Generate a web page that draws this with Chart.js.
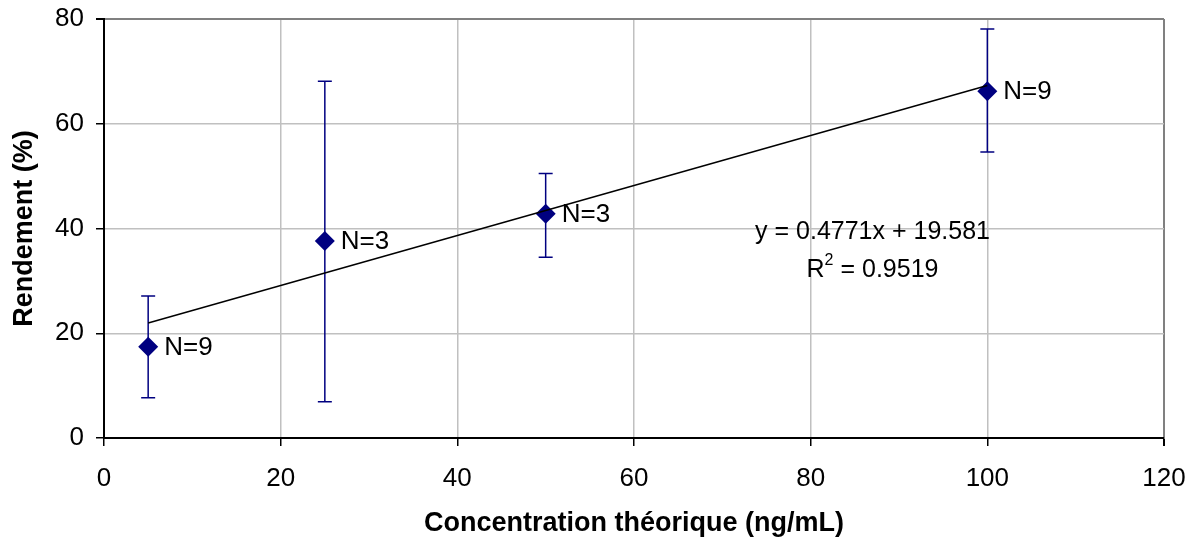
<!DOCTYPE html>
<html>
<head>
<meta charset="utf-8">
<script src="https://cdn.jsdelivr.net/npm/chart.js@4"></script>
<style>
  html, body { margin: 0; padding: 0; background: #fff; }
  #wrap { width: 1196px; height: 544px; }
</style>
</head>
<body>
<div id="wrap"><canvas id="rendementChart" width="1196" height="544"></canvas></div>
<script>
// values
const concentrations = [5, 25, 50, 100];
const rendements = [17.4, 37.6, 42.8, 66.2];
const errLow = [7.7, 6.9, 34.5, 54.6];
const errHigh = [27.1, 68.1, 50.5, 78.1];
const nLabels = ["N=9", "N=3", "N=3", "N=9"];

// trend line end points (Excel linear trendline, x from 5 to 100)
const trendX = [5, 100];
const trendY = [21.97, 67.29];
const equationLines = ["y = 0.4771x + 19.581", "R2 = 0.9519"];

const xTicks = [0, 20, 40, 60, 80, 100, 120];
const yTicks = [0, 20, 40, 60, 80];

const navy = "#000080";
const font = "'Liberation Sans', Arial, sans-serif";

const errorBars = {
    id: 'errorBars',
    beforeDatasetsDraw(chart) {
        const ctx = chart.ctx;
        const xs = chart.scales.x, ys = chart.scales.y;
        ctx.save();
        ctx.strokeStyle = navy;
        ctx.lineWidth = 1.5;
        concentrations.forEach((c, i) => {
            const px = xs.getPixelForValue(c);
            const top = ys.getPixelForValue(errHigh[i]);
            const bot = ys.getPixelForValue(errLow[i]);
            ctx.beginPath();
            ctx.moveTo(px, top); ctx.lineTo(px, bot);
            ctx.moveTo(px - 7, top); ctx.lineTo(px + 7, top);
            ctx.moveTo(px - 7, bot); ctx.lineTo(px + 7, bot);
            ctx.stroke();
        });
        ctx.restore();
    },
    afterDatasetsDraw(chart) {
        const ctx = chart.ctx;
        const xs = chart.scales.x, ys = chart.scales.y;
        ctx.save();
        ctx.fillStyle = "#000";
        ctx.font = "26px " + font;
        ctx.textBaseline = "middle";
        ctx.textAlign = "left";
        concentrations.forEach((c, i) => {
            ctx.fillText(nLabels[i], xs.getPixelForValue(c) + 16, ys.getPixelForValue(rendements[i]) + 1);
        });
        // trendline equation
        ctx.font = "25px " + font;
        ctx.textAlign = "center";
        const ex = xs.getPixelForValue(87);
        ctx.fillText(equationLines[0], ex, ys.getPixelForValue(39.3));
        // R² with superscript
        const rY = ys.getPixelForValue(32);
        const w1 = ctx.measureText("R").width;
        const rest = " = 0.9519";
        const w2 = ctx.measureText(rest).width;
        ctx.font = "16px " + font;
        const ws = ctx.measureText("2").width;
        const total = w1 + ws + w2;
        let sx = ex - total / 2;
        ctx.textAlign = "left";
        ctx.font = "25px " + font;
        ctx.fillText("R", sx, rY);
        ctx.font = "16px " + font;
        ctx.fillText("2", sx + w1, rY - 10);
        ctx.font = "25px " + font;
        ctx.fillText(rest, sx + w1 + ws, rY);
        ctx.restore();
    }
};

const chart = new Chart(document.getElementById('rendementChart'), {
    type: 'scatter',
    data: {
        datasets: [
            {
                label: "Rendement",
                data: concentrations.map((c, i) => ({ x: c, y: rendements[i] })),
                pointStyle: 'rectRot',
                pointRadius: 10,
                pointHoverRadius: 10,
                backgroundColor: navy,
                borderColor: navy,
                borderWidth: 0,
                order: 1
            },
            {
                label: "Linéaire",
                type: 'line',
                data: trendX.map((x, i) => ({ x: x, y: trendY[i] })),
                borderColor: "#000",
                borderWidth: 1.5,
                pointRadius: 0,
                fill: false,
                order: 0
            }
        ]
    },
    options: {
        responsive: false,
        animation: false,
        events: [],
        layout: { padding: { left: 0, top: 19, right: 32, bottom: 0 } },
        plugins: {
            legend: { display: false },
            tooltip: { enabled: false }
        },
        scales: {
            x: {
                type: 'linear',
                min: 0, max: 120,
                afterFit: s => { s.height = 106; s.paddingLeft = 0; s.paddingRight = 0; },
                afterBuildTicks: s => { s.ticks = xTicks.map(v => ({ value: v })); },
                border: { color: "#000", width: 2 },
                grid: {
                    color: c => c.index === xTicks.length - 1 ? "#808080" : "#c0c0c0",
                    lineWidth: c => c.index === xTicks.length - 1 ? 2 : 1.5,
                    tickColor: "#000",
                    tickLength: 8
                },
                ticks: {
                    color: "#000",
                    padding: 17,
                    font: { family: font, size: 26 }
                },
                title: {
                    display: true,
                    text: "Concentration théorique (ng/mL)",
                    color: "#000",
                    font: { family: font, size: 27, weight: 'bold' },
                    padding: { top: 0, bottom: 4 }
                }
            },
            y: {
                type: 'linear',
                min: 0, max: 80,
                afterFit: s => { s.width = 104; s.paddingTop = 0; s.paddingBottom = 0; },
                afterBuildTicks: s => { s.ticks = yTicks.map(v => ({ value: v })); },
                border: { color: "#000", width: 2 },
                grid: {
                    color: c => c.index === yTicks.length - 1 ? "#808080" : "#c0c0c0",
                    lineWidth: c => c.index === yTicks.length - 1 ? 2 : 1.5,
                    tickColor: "#000",
                    tickLength: 8
                },
                ticks: {
                    color: "#000",
                    padding: 12,
                    font: { family: font, size: 26 }
                },
                title: {
                    display: true,
                    text: "Rendement (%)",
                    color: "#000",
                    font: { family: font, size: 27, weight: 'bold' },
                    padding: { top: 8, bottom: 0 }
                }
            }
        }
    },
    plugins: [errorBars]
});
</script>
</body>
</html>
